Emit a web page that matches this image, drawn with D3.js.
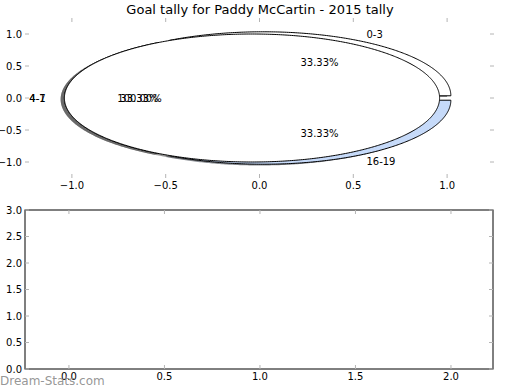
<!DOCTYPE html>
<html>
<head>
<meta charset="utf-8">
<script src="https://cdn.jsdelivr.net/npm/d3@7"></script>
<style>
  body { margin: 0; background: #fff; }
  text { font-family: "DejaVu Sans", sans-serif; }
</style>
</head>
<body>
<svg id="chart"></svg>
<script>
// pie data
const categories = ["0-3", "4-7", "16-19"];
const values = [1, 1, 1];
const sliceColors = ["#ffffff", "#ffffff", "#c6daf9"];
// second pie drawn on top: one full slice
const overlayCategories = ["4-1"];
const overlayValues = [1];
const overlayColors = ["#ffffff"];

// axis ticks
const pieTicks = [-1.0, -0.5, 0.0, 0.5, 1.0];
const lowerXTicks = [0.0, 0.5, 1.0, 1.5, 2.0];
const lowerYTicks = [0.0, 0.5, 1.0, 1.5, 2.0, 2.5, 3.0];

const width = 520, height = 390;
const explode = 0.04;

const svg = d3.select('#chart')
  .attr('width', width)
  .attr('height', height);

svg.append('text')
  .attr('x', 260).attr('y', 13.5)
  .attr('text-anchor', 'middle')
  .attr('font-size', 13)
  .text('Goal tally for Paddy McCartin - 2015 tally');

// ---- top axes (pie) ----
const pieBox = { left: 25, right: 494, top: 18, bottom: 178 };
const x = d3.scaleLinear().domain([-1.25, 1.25]).range([pieBox.left, pieBox.right]);
const y = d3.scaleLinear().domain([-1.25, 1.25]).range([pieBox.bottom, pieBox.top]);

const fmt = d3.format('.1f');
const tickColor = '#b4b4b4';

function ticksInside(g, xs, ys, xScale, yScale, box) {
  xs.forEach(v => {
    g.append('line').attr('x1', xScale(v)).attr('x2', xScale(v))
      .attr('y1', box.bottom).attr('y2', box.bottom - 4).attr('stroke', tickColor);
    g.append('line').attr('x1', xScale(v)).attr('x2', xScale(v))
      .attr('y1', box.top).attr('y2', box.top + 4).attr('stroke', tickColor);
    g.append('text').attr('x', xScale(v)).attr('y', box.bottom + 11)
      .attr('text-anchor', 'middle').attr('font-size', 10)
      .text(fmt(v).replace('-', '\u2212'));
  });
  ys.forEach(v => {
    g.append('line').attr('x1', box.left).attr('x2', box.left + 4)
      .attr('y1', yScale(v)).attr('y2', yScale(v)).attr('stroke', tickColor);
    g.append('line').attr('x1', box.right).attr('x2', box.right - 4)
      .attr('y1', yScale(v)).attr('y2', yScale(v)).attr('stroke', tickColor);
    g.append('text').attr('x', box.left - 3).attr('y', yScale(v))
      .attr('text-anchor', 'end').attr('dominant-baseline', 'central')
      .attr('font-size', 10)
      .text(fmt(v).replace('-', '\u2212'));
  });
}

const topG = svg.append('g');
ticksInside(topG, pieTicks, pieTicks, x, y, pieBox);

const pie = d3.pie().sort(null);

// matplotlib style: start at 3 o'clock, counterclockwise
function wedgePath(cx, cy, a0, a1) {
  const n = Math.max(2, Math.ceil((a1 - a0) / 0.01));
  const pts = [];
  const full = (a1 - a0) >= 2 * Math.PI - 1e-9;
  if (!full) pts.push([x(cx), y(cy)]);
  for (let i = 0; i <= n; i++) {
    const t = a0 + (a1 - a0) * i / n;
    pts.push([x(cx + Math.cos(t)), y(cy + Math.sin(t))]);
  }
  return d3.line()(pts) + 'Z';
}

function buildPie(vals, labels, colors) {
  const total = d3.sum(vals);
  return pie(vals).map((d, i) => {
    const mid = (d.startAngle + d.endAngle) / 2;
    return {
      a0: d.startAngle, a1: d.endAngle, mid,
      cx: explode * Math.cos(mid), cy: explode * Math.sin(mid),
      label: labels[i], color: colors[i],
      pct: (100 * d.value / total).toFixed(2) + '%'
    };
  });
}

const slices = buildPie(values, categories, sliceColors)
  .concat(buildPie(overlayValues, overlayCategories, overlayColors));

const pieG = svg.append('g');
// shadows first, underneath every wedge
pieG.selectAll('path.shadow').data(slices).enter().append('path')
  .attr('d', s => wedgePath(s.cx - 0.02, s.cy - 0.02, s.a0, s.a1))
  .attr('fill', s => { const c = d3.rgb(s.color); return d3.rgb(c.r * 0.3, c.g * 0.3, c.b * 0.3); })
  .attr('fill-opacity', 0.6)
  .attr('stroke', 'none');

pieG.selectAll('path.wedge').data(slices).enter().append('path')
  .attr('d', s => wedgePath(s.cx, s.cy, s.a0, s.a1))
  .attr('fill', s => s.color)
  .attr('stroke', '#000')
  .attr('stroke-width', 1)
  .attr('stroke-linejoin', 'round');

slices.forEach(s => {
  const lx = s.cx + 1.1 * Math.cos(s.mid), ly = s.cy + 1.1 * Math.sin(s.mid);
  pieG.append('text')
    .attr('x', x(lx)).attr('y', y(ly))
    .attr('text-anchor', lx < 0 ? 'end' : 'start')
    .attr('dominant-baseline', 'central')
    .attr('font-size', 10)
    .text(s.label);
  const px = s.cx + 0.6 * Math.cos(s.mid), py = s.cy + 0.6 * Math.sin(s.mid);
  pieG.append('text')
    .attr('x', x(px)).attr('y', y(py))
    .attr('text-anchor', 'middle')
    .attr('dominant-baseline', 'central')
    .attr('font-size', 10)
    .text(s.pct);
});

// ---- bottom axes (empty) ----
const low = { left: 25, right: 493, top: 210, bottom: 369 };
const x2 = d3.scaleLinear().domain([-0.23, 2.22]).range([low.left, low.right]);
const y2 = d3.scaleLinear().domain([0, 3]).range([low.bottom, low.top]);

const lowG = svg.append('g');
lowG.append('rect')
  .attr('x', low.left).attr('y', low.top)
  .attr('width', low.right - low.left).attr('height', low.bottom - low.top)
  .attr('fill', 'none').attr('stroke', '#000').attr('stroke-width', 1);
ticksInside(lowG, lowerXTicks, lowerYTicks, x2, y2, low);

// watermark
svg.append('text')
  .attr('x', 0).attr('y', 385)
  .attr('font-size', 12)
  .attr('fill', '#8a8a8a')
  .attr('fill-opacity', 0.9)
  .text('Dream-Stats.com');
</script>
</body>
</html>
